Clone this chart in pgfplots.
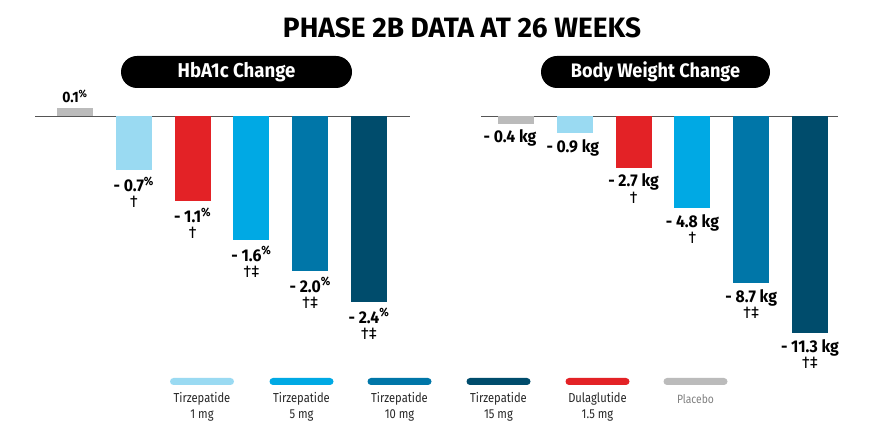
\documentclass[border=0pt]{standalone}
\usepackage{pgfplots}
\pgfplotsset{compat=1.18}
\usepackage{fontspec}
\setmainfont{Fira Sans}[FakeStretch=0.93]
\newfontfamily\legfont{Fira Sans}[FakeStretch=0.86]
\newfontfamily\titlefont{Fira Sans}[FakeStretch=1.0]
\definecolor{tz1}{HTML}{9ADAF2}
\definecolor{tz5}{HTML}{00A9E4}
\definecolor{tz10}{HTML}{0076A8}
\definecolor{tz15}{HTML}{004C6C}
\definecolor{dula}{HTML}{E32226}
\definecolor{plac}{HTML}{BBBBBB}
\definecolor{zl}{HTML}{555555}
\begin{document}
\begin{tikzpicture}
\begin{scope}[x=1pt,y=1pt]
\useasboundingbox (0,0) rectangle (884,427);
% title
\node[font=\titlefont\fontsize{28}{30}\selectfont\bfseries] at (462,399.5) {PHASE 2B DATA AT 26 WEEKS};
% pills
\fill[black, rounded corners=16pt] (121,339) rectangle (352,371);
\node[white, font=\fontsize{20}{21}\selectfont\bfseries] at (236.5,355) {HbA1c Change};
\fill[black, rounded corners=16pt] (541,339) rectangle (770,371);
\node[white, font=\fontsize{19.5}{21}\selectfont\bfseries] at (655.5,355) {Body Weight Change};
% legend
\foreach \c/\xc/\la/\lb in {tz1/202/Tirzepatide/1 mg, tz5/301.5/Tirzepatide/5 mg, tz10/399.5/Tirzepatide/10 mg, tz15/498.5/Tirzepatide/15 mg, dula/597.5/Dulaglutide/1.5 mg}{
  \fill[\c, rounded corners=3.5pt] (\xc-32,42) rectangle (\xc+32,49);
  \node[align=center, text=black!85, font=\legfont\fontsize{13}{16}\selectfont] at (\xc,20) {\la\\\lb};
}
\fill[plac, rounded corners=3.5pt] (695.5-32,42) rectangle (695.5+32,49);
\node[font=\legfont\fontsize{12}{16}\selectfont, text=gray] at (695.5,28) {Placebo};
\end{scope}

\pgfplotsset{barstyle/.style={hide axis, ybar, bar width=36pt, bar shift=0pt, clip=false,
  scale only axis,
  nodes near coords, point meta=explicit symbolic,
  every node near coord/.append style={font=\fontsize{17}{16.5}\selectfont, align=center, text=black, inner sep=2pt, anchor=north, yshift=-4pt}}}
% left axis: zero at (75pt,311pt); x unit 58.8pt, y unit 77.5pt
\begin{axis}[barstyle, anchor=south west, at={(35pt,97.875pt)}, width=375.144pt, height=240.25pt,
  xmin=-0.68, xmax=5.7, ymin=-2.75, ymax=0.35]
\draw[zl, line width=0.6pt] (axis cs:-0.68,0) -- (axis cs:5.7,0);
\addplot[fill=plac, draw=none, every node near coord/.append style={anchor=south, yshift=7pt, font=\fontsize{15}{16}\selectfont}] coordinates {(0,0.1) [{\textbf{0.1\textsuperscript{\%}}}]};
\addplot[fill=tz1, draw=none] coordinates {(1,-0.7) [{\textbf{- 0.7\textsuperscript{\%}}\\\textdagger}]};
\addplot[fill=dula, draw=none] coordinates {(2,-1.1) [{\textbf{- 1.1\textsuperscript{\%}}\\\textdagger}]};
\addplot[fill=tz5, draw=none] coordinates {(3,-1.6) [{\textbf{- 1.6\textsuperscript{\%}}\\\textdagger\textdaggerdbl}]};
\addplot[fill=tz10, draw=none] coordinates {(4,-2.0) [{\textbf{- 2.0\textsuperscript{\%}}\\\textdagger\textdaggerdbl}]};
\addplot[fill=tz15, draw=none] coordinates {(5,-2.4) [{\textbf{- 2.4\textsuperscript{\%}}\\\textdagger\textdaggerdbl}]};
\end{axis}
% right axis: zero at (516pt,311pt); x unit 58.8pt, y unit 19.2pt
\begin{axis}[barstyle, anchor=south west, at={(481pt,51.8pt)}, width=356.975pt, height=288pt,
  xmin=-0.595, xmax=5.476, ymin=-13.5, ymax=1.5]
\draw[zl, line width=0.6pt] (axis cs:-0.595,0) -- (axis cs:5.476,0);
\addplot[fill=plac, draw=none, every node near coord/.append style={xshift=-6pt}] coordinates {(0,-0.4) [{\textbf{- 0.4 kg}}]};
\addplot[fill=tz1, draw=none, every node near coord/.append style={xshift=-2pt}] coordinates {(1,-0.9) [{\textbf{- 0.9 kg}}]};
\addplot[fill=dula, draw=none] coordinates {(2,-2.7) [{\textbf{- 2.7 kg}\\\textdagger}]};
\addplot[fill=tz5, draw=none] coordinates {(3,-4.8) [{\textbf{- 4.8 kg}\\\textdagger}]};
\addplot[fill=tz10, draw=none] coordinates {(4,-8.7) [{\textbf{- 8.7 kg}\\\textdagger\textdaggerdbl}]};
\addplot[fill=tz15, draw=none] coordinates {(5,-11.3) [{\textbf{- 11.3 kg}\\\textdagger\textdaggerdbl}]};
\end{axis}
\end{tikzpicture}
\end{document}
